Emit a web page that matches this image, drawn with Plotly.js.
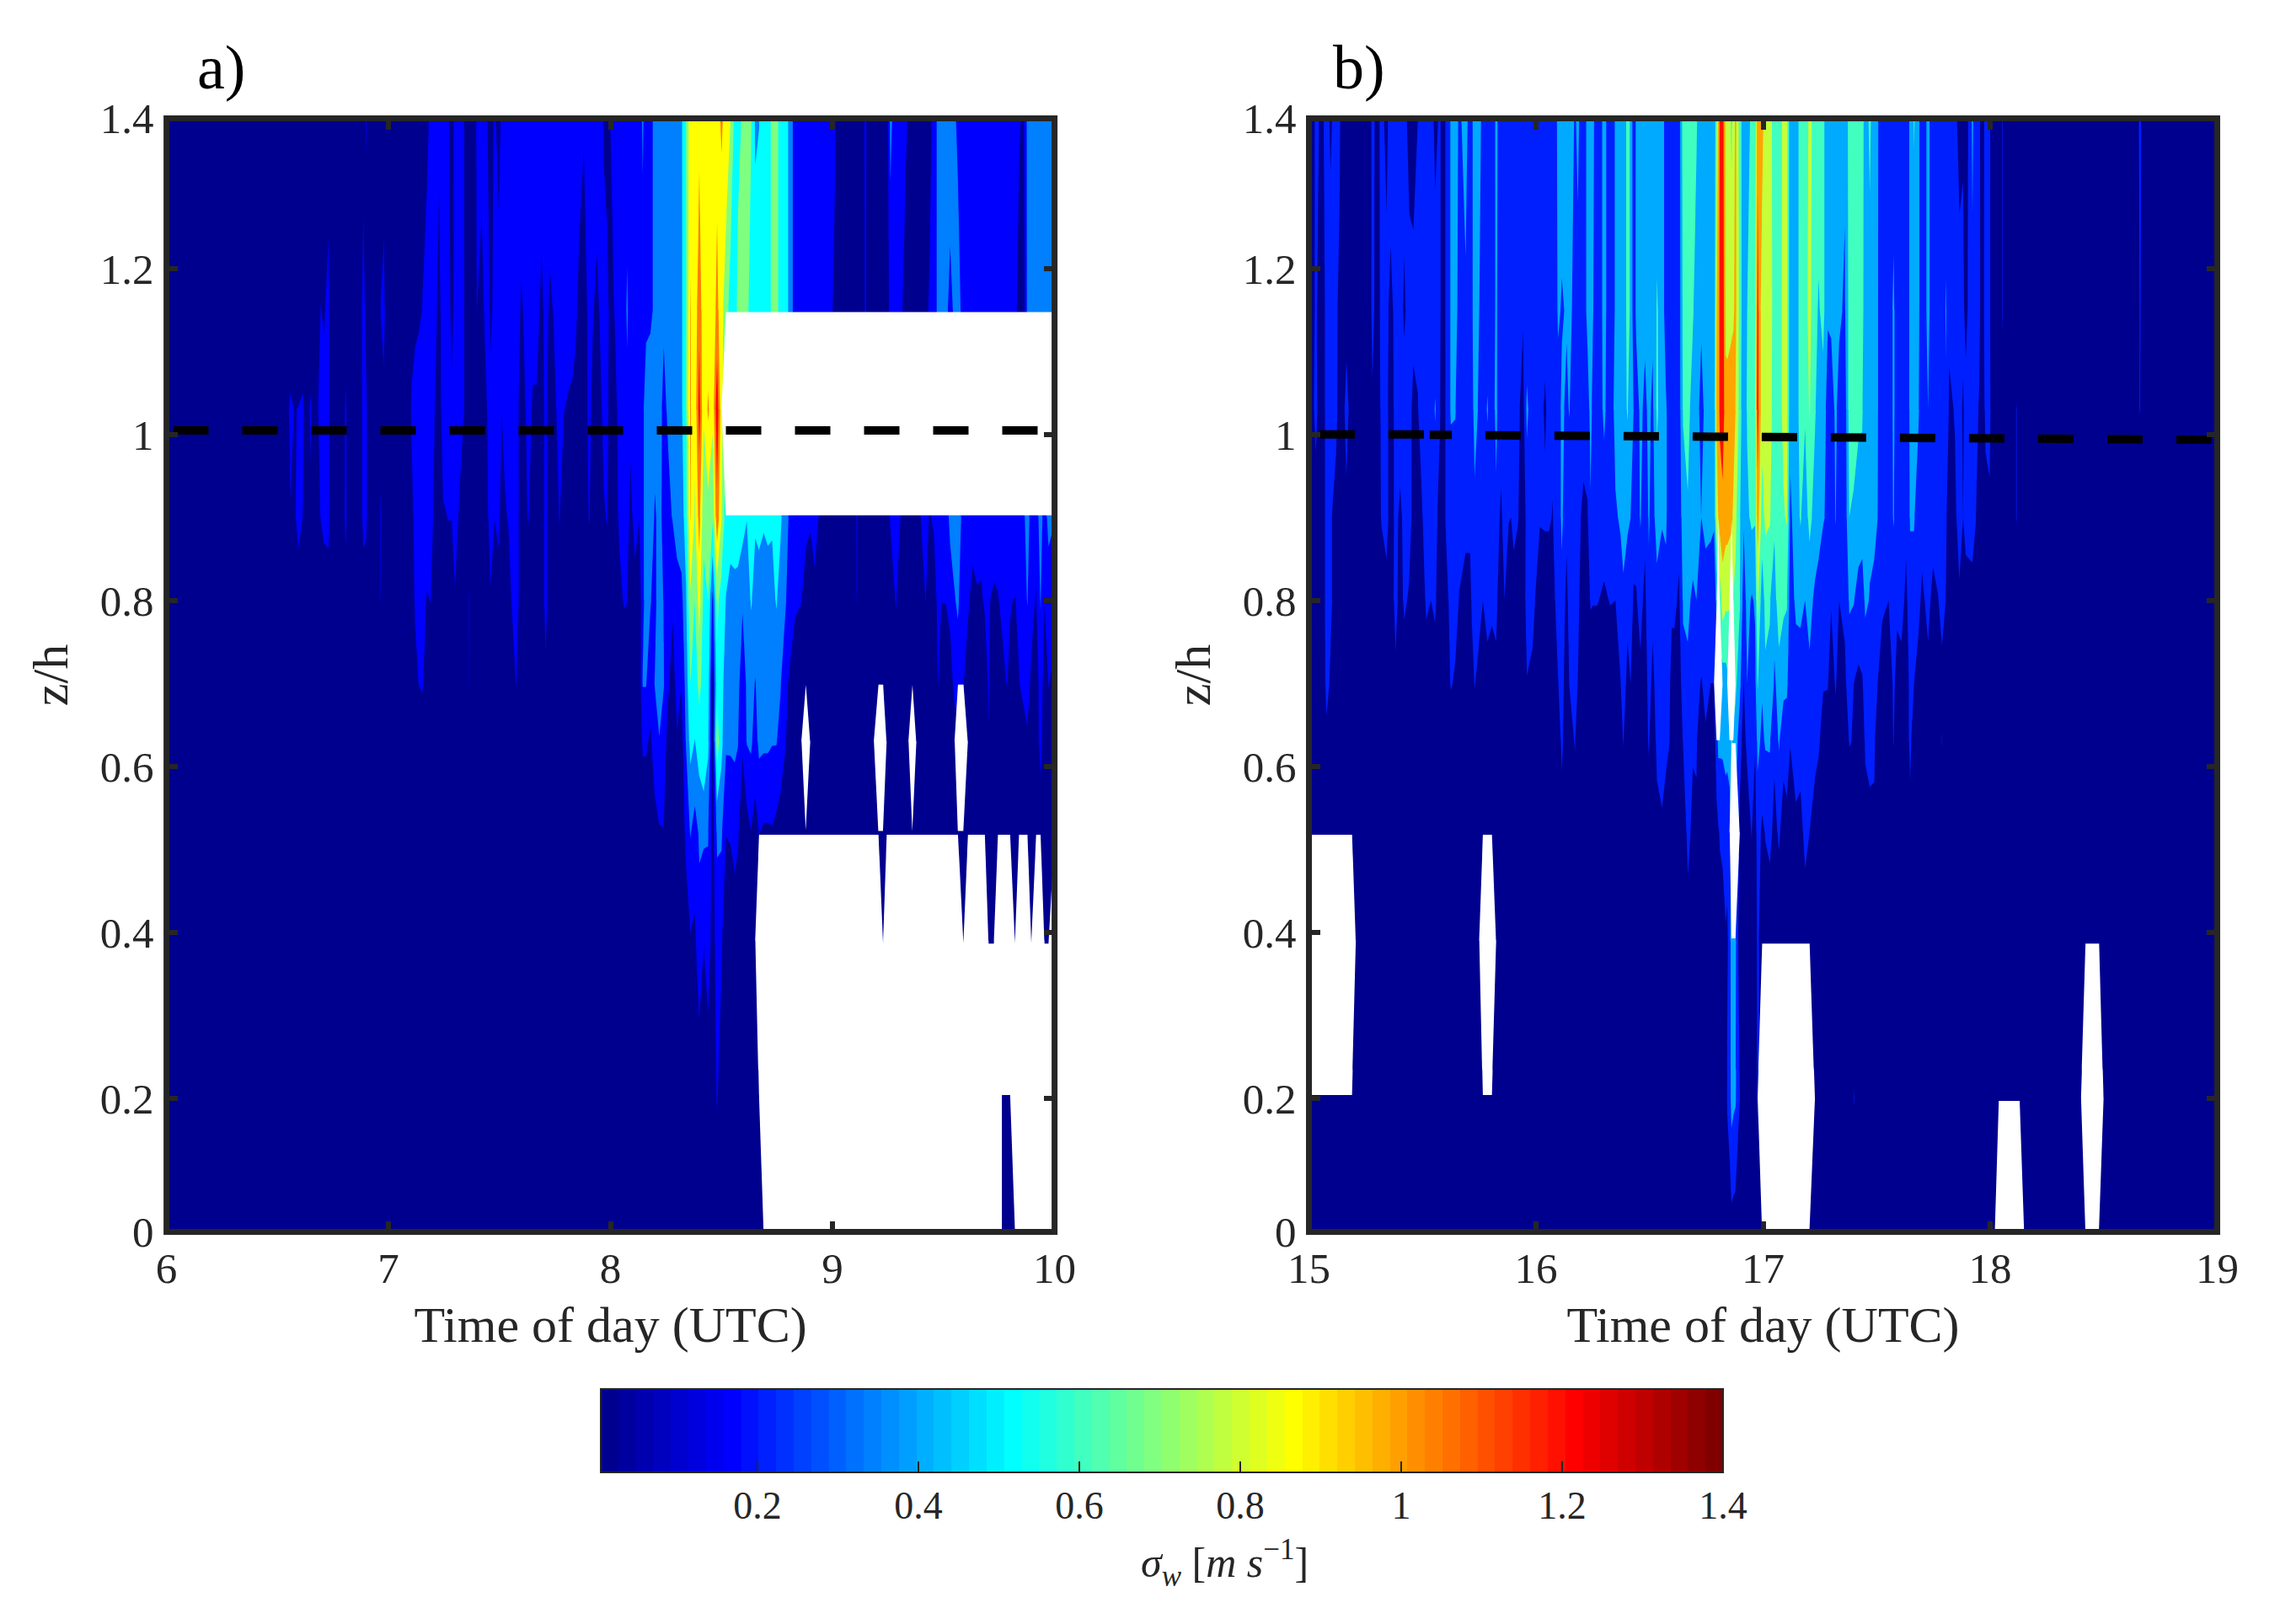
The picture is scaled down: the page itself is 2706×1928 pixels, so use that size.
<!DOCTYPE html>
<html><head><meta charset="utf-8">
<script src="https://cdn.plot.ly/plotly-3.0.1.min.js"></script>
<style>html,body{margin:0;padding:0;background:#fff}</style></head>
<body><div id="chart" style="width:2706px;height:1928px"></div>
<script>
const n = null;
// z/h of the profile levels, listed from the top of the plot down
const heights = [1.382,1.15,1.03,0.9,0.8,0.7,0.63,0.52,0.39,0.2,0.038];
const calmValue = 5; // levels left out at the end of a profile below are calm (cm/s)
// sigma_w in cm/s: [time, value at each height from the top down]
const profilesA = [
[6.00,5],[6.52,5],[6.535,5,5,10],[6.558,5,5,20,17],[6.578,5,5,17,16],[6.595,5,5,18,22,10],[6.615,5,5,20,17,5],[6.63,5,5,10,10],[6.65,5,5,20,15],[6.665,5],
[6.695,5,18,25,18,5],[6.71,5,15,25,20,12],[6.73,5,25,25,25,5],[6.74,5],[6.795,5],[6.807,5,5,22,25,5],[6.82,5],[6.875,5],[6.887,5,30,30,25,5],[6.9,20,8,22,22,5],[6.91,5],[6.955,5],
[6.965,5,18,10,20,18,10],[6.98,5,25,12,5],[6.99,5],[7.09,5],[7.105,5,5,22,10],[7.12,5,10,30,25,20,12],[7.137,5,14,30,30,25,18,5],[7.153,8,18,32,30,25,20,5],[7.173,10,30,30,30,16,5],[7.19,25,30,30,30,18,5],
[7.208,30,30,18,10,5],[7.215,30,20,14,5],[7.228,22,10,5],[7.246,30,30,30,15,5],[7.27,20,28,28,18,5],[7.285,8,10,22,18,5],[7.3,25,25,25,25,16,5],[7.32,25,25,25,15,5],[7.34,18,18,18,5],[7.355,5],[7.364,5,5,5,5,20,18,5],[7.375,5],[7.39,5],
[7.398,25,18,5],[7.42,25,10,5],[7.44,25,25,14,5],[7.45,12,25,22,18,5],[7.46,5,12,25,25,16,5],[7.478,22,25,25,18,5],[7.497,5,30,25,25,5],[7.51,25,25,18,5],[7.525,25,25,25,15,5],[7.54,25,25,25,19,5],[7.555,30,30,30,30,18,10,5],[7.575,30,30,30,30,30,18,5],[7.598,30,15,5],
[7.63,30,25,25,19,5],[7.65,30,25,15,5],[7.668,30,25,15,5],[7.69,30,12,5],[7.708,30,25,25,25,25,13,5],[7.727,30,14,5],[7.742,30,18,8,5],[7.76,30,25,20,10,5],[7.77,30,25,25,19,5],[7.79,30,25,18,5],[7.808,30,25,16,5],[7.83,30,25,14,5],[7.843,30,22,10,5],[7.861,28,10,5],[7.88,20,5],[7.905,30,25,25,19,5],[7.92,30,20,10,5],[7.938,30,12,5],[7.95,30,18,8,5],[7.97,15,25,25,15,5],[7.985,8,25,25,19,5],
[8.0,18,10,5],[8.02,25,19,10,5],[8.04,25,25,25,22,10,5],[8.06,25,25,25,25,19,5],[8.075,25,38,30,25,18,5],[8.09,25,25,22,13,5],[8.11,25,25,25,23,12,5],[8.13,25,25,25,18,5],[8.145,38,28,30,30,30,36,20,5],[8.16,25,30,45,45,42,36,20,5],[8.18,25,32,45,45,36,25,15,5],
[8.2,45,38,42,33,30,36,26,12,5],[8.22,45,45,42,40,45,45,34,16,5],[8.24,45,38,30,30,34,36,25,17,5],[8.26,45,45,38,30,25,20,12,5],[8.28,45,45,40,36,20,10,5],[8.3,47,47,45,40,30,24,16,5],[8.32,50,50,50,45,30,18,10,5],[8.34,70,68,68,60,50,42,36,22,7],
[8.36,100,106,107,106,85,70,58,36,16,5],[8.38,95,92,92,85,70,62,52,28,14,5],[8.40,100,118,130,112,95,75,62,37,30,5],[8.42,98,92,90,75,65,62,70,38,18,5],[8.44,100,92,108,80,70,60,56,36,28,5],[8.46,97,92,92,72,30,12,10,10,10,5],[8.48,98,111,135,118,75,65,80,38,25,19,5],[8.5,108,92,92,88,62,60,58,38,20,8,5],
[8.52,98,80,n,60,52,42,38,18,5],[8.54,88,62,n,62,45,42,38,19,5],[8.56,65,60,n,60,48,42,38,25,5],[8.574,65,75,n,62,46,40,36,20,5],[8.595,72,75,n,60,37,24,20,5,5],[8.614,75,76,n,53,42,38,36,10,5],[8.633,72,62,n,60,54,42,38,17,5],[8.652,50,60,n,54,48,34,28,10,5,5,5],
[8.669,52,60,n,58,44,42,39,18,n,5,5],[8.69,60,60,n,54,46,42,38,15,n,n,5],[8.709,60,60,n,58,42,42,38,15,n,n,n],[8.728,75,75,n,55,46,40,36,16,n,n,n],[8.747,76,76,n,60,54,40,36,12,n,n,n],[8.766,62,62,n,55,46,36,30,8,n,n,n],[8.79,60,60,n,42,36,20,18,5,n,n,n],[8.81,45,45,n,30,24,15,8,5,n,n,n],[8.832,25,25,n,25,20,8,5,5,n,n,n],
[8.86,25,25,n,25,18,5,5,5,n,n,n],[8.88,25,25,n,22,10,5,n,5,n,n,n],[8.9,25,25,n,20,5,5,5,5,n,n,n],[8.92,25,25,n,26,12,5,5,5,n,n,n],[8.94,25,25,n,16,5,5,5,5,n,n,n],[8.96,25,25,n,12,5,5,5,5,n,n,n],[8.99,25,22,n,8,5,5,5,5,n,n,n],[9.01,20,14,n,6,5,5,5,5,n,n,n],[9.03,5,5,n,5,5,5,5,5,n,n,n],[9.09,5,5,n,5,5,5,5,5,n,n,n],[9.11,5,5,n,19,18,8,5,5,n,n,n],[9.13,5,5,n,5,5,5,5,5,n,n,n],[9.148,22,20,n,5,5,5,5,5,n,n,n],[9.165,5,5,n,5,5,5,5,5,n,n,n],
[9.186,5,5,n,5,5,5,5,5,n,n,n],[9.207,5,5,n,5,5,5,n,5,n,n,n],[9.228,5,5,n,5,5,5,n,5,5,n,n],[9.244,5,5,n,8,5,5,5,5,n,n,n],[9.26,40,25,n,19,5,5,5,5,n,n,n],[9.286,25,25,n,25,19,5,5,5,n,n,n],[9.31,25,22,n,16,5,5,5,5,n,n,n],[9.33,22,5,n,8,5,5,5,5,n,n,n],[9.342,15,5,n,5,5,5,5,5,n,n,n],[9.36,5,5,n,5,5,5,n,5,n,n,n],[9.378,5,5,n,5,5,5,5,5,n,n,n],
[9.40,5,10,n,19,5,5,5,5,n,n,n],[9.42,5,12,n,25,18,5,5,5,n,n,n],[9.437,10,20,n,16,5,5,5,5,n,n,n],[9.457,25,25,n,20,8,5,5,5,n,n,n],[9.475,40,40,n,25,22,18,5,5,n,n,n],[9.49,40,40,n,25,18,5,5,5,n,n,n],[9.51,40,40,n,25,18,5,5,5,n,n,n],[9.53,45,30,n,40,25,6,5,5,n,n,n],[9.55,38,38,n,42,34,25,5,5,n,n,n],[9.565,30,45,n,42,38,25,n,5,n,n,n],[9.59,25,25,n,30,22,18,n,5,5,n,n],[9.61,25,25,n,25,20,10,5,5,n,n,n],
[9.632,25,25,n,25,12,5,5,5,n,n,n],[9.65,25,25,n,24,16,5,5,5,n,n,n],[9.67,25,25,n,22,16,5,5,5,n,n,n],[9.686,25,25,n,25,19,10,5,5,n,n,n],[9.703,25,25,n,25,19,19,17,5,5,n,n],[9.727,25,25,n,30,14,5,5,5,5,n,n],[9.745,25,25,n,30,16,5,5,5,n,n,n],[9.763,25,25,n,30,22,10,5,5,n,5,5],[9.784,25,25,n,28,22,18,5,5,n,5,5],[9.80,25,25,n,28,18,16,5,5,n,5,5],[9.822,25,25,n,30,17,5,5,5,5,n,5],[9.84,20,10,n,25,20,17,5,5,n,n,n],[9.86,14,8,n,30,25,22,10,5,n,n,n],
[9.878,40,40,n,45,36,22,16,5,n,n,n],[9.896,45,45,n,25,22,15,5,5,5,n,n],[9.917,45,45,n,25,16,5,5,5,n,n,n],[9.937,45,45,n,44,36,28,25,5,n,n,n],[9.955,45,45,n,25,18,8,5,5,5,n,n],[9.973,45,45,n,42,22,18,12,5,5,n,n],[10,45,45,n,36,22,14,5,5,n,n,n]
];
const profilesB = [
[15,22,22,10,5,5,5,5,5,n,5,5],[15.012,5,5,5,5,5,5,5,5,n,5,5],[15.03,25,25,30,5,5,5,5,5,n,5,5],[15.05,18,8,5,5,5,5,5,5,n,5,5],[15.072,21,21,21,21,21,20,5,5,n,5,5],[15.078,25,25,25,25,25,30,12,5,n,5,5],[15.095,18,25,25,25,26,16,5,5,n,5,5],[15.12,25,25,30,5,5,5,5,5,n,5,5],[15.135,25,14,5,5,5,5,5,5,n,5,5],[15.145,5,5,5,5,5,5,5,5,n,5,5],[15.165,5,10,30,14,5,5,5,5,n,5,5],[15.19,5,5,5,5,5,5,5,5,n,5,5],
[15.207,5],[15.26,5],[15.28,25,25,18,5],[15.3,14,12,5],[15.32,25,25,25,22,5],[15.342,15,25,25,28,12,5],[15.36,30,15,12,10,5],[15.382,25,25,25,25,28,15,5],[15.402,25,25,30,16,10,5],[15.42,25,18,25,25,24,7,5],[15.442,15,25,25,30,17,5],[15.46,13,25,16,12,8,5],[15.48,20,25,19,8,5],[15.492,25,25,28,12,5],[15.51,25,25,25,28,18,5],[15.517,25,25,25,25,24,7,5],[15.537,25,25,25,25,20,5],[15.556,17,25,42,25,24,9,5],[15.578,22,22,21,14,5],[15.59,8,8,8,8,8,5],[15.605,25,25,25,25,10,5],
[15.625,42,42,42,28,30,22,5],[15.645,50,50,41,30,28,17,5],[15.662,36,30,28,28,19,5],[15.69,48,37,28,26,12,5],[15.71,30,30,28,26,12,5],[15.718,38,38,35,30,24,11,5],[15.73,46,46,45,37,30,21,5],[15.75,42,40,38,30,26,14,5],[15.766,38,28,25,25,20,5,5,5,n,5,5],[15.786,28,28,42,26,26,14,5,5,n,5,5],[15.806,28,28,28,28,24,11,5,5,n,5,5],[15.825,44,44,46,36,26,14,5],[15.838,35,30,28,22,12,5],[15.846,25,25,30,16,5],[15.862,25,25,25,30,20,5],[15.88,25,20,25,21,5],[15.89,25,25,25,20,5],[15.902,25,25,25,24,14,5],[15.92,25,25,25,22,5],[15.943,25,22,12,8,5],[15.96,25,25,45,26,30,19,5],[15.985,25,25,25,25,28,14,5],
[16.017,25,25,25,22,5],[16.04,25,25,18,23,5],[16.058,25,25,25,23,5],[16.073,25,25,25,19,5],[16.085,25,25,25,26,21,5],[16.097,50,44,30,28,30,19,5],[16.114,50,38,44,44,34,30,25,10,5],[16.135,50,42,36,25,14,5],[16.147,50,48,41,28,28,21,5],[16.172,38,30,28,28,28,28,22,5],[16.184,44,35,28,25,24,20,5],[16.209,28,28,28,16,10,5],[16.227,46,46,30,18,5],[16.24,46,46,46,38,22,5],[16.25,46,42,36,30,21,5],[16.27,25,25,25,25,21,5],[16.3,46,46,44,30,17,5],[16.327,28,28,28,28,21,5],[16.35,42,42,46,38,20,5],[16.372,44,44,44,42,32,19,5],[16.385,50,50,48,44,38,30,21,5],[16.403,65,65,62,44,26,14,5],[16.417,58,58,50,40,30,20,5],[16.43,26,28,40,28,18,5],[16.442,45,45,30,25,19,5],[16.46,46,46,44,42,26,16,5],[16.48,48,44,36,25,15,5],[16.497,48,46,44,42,36,30,23,5],[16.514,48,44,36,32,26,14,5],[16.533,50,62,64,50,32,30,26,12,5],[16.555,50,50,48,42,28,28,28,17,5],[16.573,30,30,42,42,36,28,24,12,5],[16.589,30,30,30,30,26,22,20,5],[16.598,30,30,30,30,24,12,5],[16.61,30,30,30,30,24,12,5],[16.63,30,30,30,26,17,5],
[16.648,70,66,62,50,42,35,21,5],[16.669,70,70,66,58,42,38,30,26,11,5],[16.691,70,62,52,46,38,25,22,15,5],[16.707,62,52,50,46,40,24,22,17,5],[16.728,46,44,32,40,30,19,5],[16.747,46,46,46,46,30,24,18,5],[16.77,46,46,46,44,30,20,5],[16.784,42,42,42,42,30,20,12,5],[16.796,80,100,104,90,44,n,30,15,5],[16.803,105,112,112,100,n,n,45,18,8],[16.81,125,125,125,108,70,n,44,22,10],[16.822,130,135,135,112,90,50,44,24,12],[16.836,95,95,106,108,84,52,46,30,18],[16.842,90,92,108,108,84,55,46,28,16,22,5],[16.853,85,92,112,106,82,n,50,30,30,30,8],[16.861,75,92,118,104,n,n,62,n,50,48,12],[16.87,90,98,108,96,78,n,56,n,46,44,11],[16.879,105,105,100,85,75,65,50,n,44,42,10],[16.898,70,72,72,62,62,45,28,15,5,20,5],
[16.915,45,44,42,42,30,19,12,8,5],[16.93,50,60,62,56,46,40,26,5,5],[16.95,66,66,66,64,38,30,22,21,5],[16.965,70,72,72,62,42,35,22,8,5],[16.976,115,128,130,112,85,62,45,30,25,24,5],[16.996,108,88,88,72,48,42,36,16,8,n,5],[17.01,88,88,88,84,66,56,42,21,8,n,5],[17.03,88,88,88,82,62,55,42,26,5,n,5],[17.05,70,72,70,66,45,38,24,14,5,n,5],[17.07,70,72,72,68,80,45,42,23,5,n,5],[17.09,85,85,85,78,64,46,26,12,5,n,5],[17.105,85,85,85,82,62,44,28,15,5,n,5],[17.12,45,45,46,36,30,26,21,5,5,n,5],[17.145,48,48,48,50,44,30,24,18,5,n,5],[17.165,70,70,70,62,44,32,26,15,5,n,5],[17.185,68,74,62,50,40,30,26,24,12,n,5],[17.205,85,85,82,66,46,36,28,20,5,n,5],
[17.229,72,66,62,52,36,28,24,14,5],[17.245,70,58,52,44,36,26,22,10,5],[17.265,66,66,52,41,30,21,14,5],[17.285,42,42,32,38,32,21,12,5],[17.3,44,44,30,26,21,12,5],[17.32,44,44,44,41,30,22,12,5],[17.335,44,44,32,25,20,10,5],[17.36,44,37,28,26,24,16,5],[17.38,68,68,68,60,42,30,21,5],[17.4,68,68,68,57,41,20,19,5,5,21,5],[17.42,68,66,62,55,30,17,5],[17.437,68,68,62,52,28,19,10,5],[17.45,50,46,48,50,44,25,22,14,5],[17.47,64,54,46,44,39,28,25,15,5],[17.49,48,46,44,44,36,26,24,15,5],[17.505,42,41,41,40,26,20,6,5],[17.525,25,25,25,25,24,8,5],[17.553,25,25,25,25,20,5],[17.575,30,44,44,42,26,24,21,5],[17.59,28,28,28,26,24,13,5],[17.61,25,25,25,25,26,14,5],[17.63,25,25,25,24,16,5],[17.648,45,45,44,42,30,28,26,12,5],[17.665,62,50,46,42,30,20,5],[17.685,44,44,42,28,24,14,5],[17.7,25,25,25,26,17,5],[17.727,46,46,40,28,24,16,5],[17.748,26,26,26,26,16,5],[17.77,25,25,25,30,19,5],[17.788,25,25,25,25,26,15,21,5],[17.805,30,42,38,25,20,5],[17.82,25,24,17,5],[17.845,25,22,21,17,5],[17.865,14,26,25,26,18,5],[17.881,18,24,18,20,5],[17.893,8,14,26,25,14,5],[17.922,44,36,28,26,15,5],[17.937,25,25,25,21,5],[17.953,25,25,18,5],[17.961,10,12,5],[17.98,25,25,24,14,5],[17.998,25,25,30,14,5],[18.007,5],
[18.02,5],[18.038,5,5,5,5,5,5,5,5,5,5,n],[18.045,5,5,5,5,5,5,5,5,5,5,n],[18.054,22,22,14,5,5,5,5,5,5,5,n],[18.063,5,5,5,5,5,5,5,5,5,5,n],[18.09,5,5,5,5,5,5,5,5,5,5,n],[18.116,5,5,21,21,5,5,5,5,5,5,n],[18.13,5,5,5,5,5,5,5,5,5,5,n],[18.15,5],[18.4,5],[18.42,5,5,5,5,5,5,5,5,5,n,5],[18.45,5,5,5,5,5,5,5,5,5,n,5],[18.48,5,5,5,5,5,5,5,5,5,n,5],[18.5,5],[18.64,5],[18.66,25,22,21,5],[18.68,5],[19,5]
];
// contour bands and the colours MATLAB gave them
const levelsA = {start:0.175,end:1.2251,size:0.175};
const levelsB = {start:0.2,end:1.2001,size:0.2};
const coloursA = ['#00008f','#0000ff','#007fff','#00ffff','#7fff7f','#ffff00','#ff7f00','#ff0000'];
const coloursB = ['#00008f','#001fff','#00aaff','#40ffbf','#c5ff3a','#ffa500','#ff0f00'];
// boundary-layer top lines
const lineAx = [6.03,10], lineAy = [1.0048,1.0048];
const lineBx = [[15.046,15.51],[15.532,15.629],[15.777,19]];
const lineBy = [[1.0,1.0],[0.9995,0.9995],[0.999,0.9936]];
const yTickVals = [0.0388,0.2,0.4,0.6,0.8,1,1.2,1.381];
const yTickText = ['0','0.2','0.4','0.6','0.8','1','1.2','1.4'];
const xTicksA = [6,7,8,9,10], xTicksB = [15,16,17,18,19];
const barTicks = [0.2,0.4,0.6,0.8,1,1.2,1.4];
const barText = ['0.2','0.4','0.6','0.8','1','1.2','1.4'];
const jet = ['00008f','00009f','0000af','0000bf','0000cf','0000df','0000ef','0000ff',
'0010ff','0020ff','0030ff','0040ff','0050ff','0060ff','0070ff','0080ff','008fff','009fff','00afff','00bfff','00cfff','00dfff','00efff','00ffff',
'10ffef','20ffdf','30ffcf','40ffbf','50ffaf','60ff9f','70ff8f','80ff80','8fff70','9fff60','afff50','bfff40','cfff30','dfff20','efff10','ffff00',
'ffef00','ffdf00','ffcf00','ffbf00','ffaf00','ff9f00','ff8f00','ff8000','ff7000','ff6000','ff5000','ff4000','ff3000','ff2000','ff1000','ff0000',
'ef0000','df0000','cf0000','bf0000','af0000','9f0000','8f0000','800000'];

const W=2706,H=1928, ink='#262626', serif='"Liberation Serif",serif';
const dx=(l,r)=>[l/W,r/W], dy=(t,b)=>[1-b/H,1-t/H];
function grid(profiles){
  const times=profiles.map(p=>p[0]);
  const full=profiles.map(p=>{const q=p.slice(1);while(q.length<heights.length)q.push(calmValue);return q;});
  const y=heights.slice().reverse();
  const z=y.map((_,r)=>full.map(q=>{const v=q[heights.length-1-r];return v===null?null:v/100;}));
  const gap=z.map(row=>row.map(v=>v===null?1:0));
  return {times,y,z,gap};
}
function traces(profiles,levels,colours,xa,ya){
  const g=grid(profiles), steps=colours.length-1;
  return [{type:'contour',x:g.times,y:g.y,z:g.z,xaxis:xa,yaxis:ya,connectgaps:true,showscale:false,hoverinfo:'skip',
    autocontour:false,contours:Object.assign({coloring:'fill',showlines:false},levels),line:{width:0,smoothing:0},
    colorscale:colours.map((c,i)=>[i/steps,c])},
   {type:'contour',x:g.times,y:g.y,z:g.gap,xaxis:xa,yaxis:ya,showscale:false,hoverinfo:'skip',autocontour:false,
    contours:{coloring:'fill',showlines:false,start:0.02,end:1.02,size:1},line:{width:0,smoothing:0},
    colorscale:[[0,'rgba(255,255,255,0)'],[0.5,'rgba(255,255,255,1)'],[1,'rgba(255,255,255,1)']]}];
}
const dash={color:'#000',width:10,dash:'42px,40px'};
const data=[...traces(profilesA,levelsA,coloursA,'x','y'),...traces(profilesB,levelsB,coloursB,'x2','y2'),
 {type:'scatter',mode:'lines',x:lineAx,y:lineAy,xaxis:'x',yaxis:'y',line:dash,hoverinfo:'skip',showlegend:false},
 ...lineBx.map((x,i)=>({type:'scatter',mode:'lines',x:x,y:lineBy[i],xaxis:'x2',yaxis:'y2',line:dash,hoverinfo:'skip',showlegend:false})),
 {type:'heatmap',xaxis:'x3',yaxis:'y3',z:[jet.map((_,i)=>i+0.5)],x0:0.0052+(1.4-0.0052)/128,dx:(1.4-0.0052)/64,y0:0.5,dy:1,zmin:0,zmax:64,showscale:false,hoverinfo:'skip',
  colorscale:jet.flatMap((c,i)=>[[i/64,'#'+c],[(i+1)/64,'#'+c]])}];
const tickfont={family:serif,size:51,color:ink};
const titlefont={family:serif,size:60,color:ink};
const xAxis=(dom,rng,vals)=>({domain:dom,range:rng,tickmode:'array',tickvals:vals,ticktext:vals.map(String),ticks:'inside',ticklen:13,tickwidth:6,tickcolor:ink,mirror:'ticks',showgrid:false,zeroline:false,showline:false,tickfont,ticklabelstandoff:8,
  title:{text:'Time of day (UTC)',font:titlefont,standoff:18}});
const yAxis=(anchor,dom)=>({domain:dom,range:[0.0388,1.381],anchor,tickmode:'array',tickvals:yTickVals,ticktext:yTickText,ticks:'inside',ticklen:13,tickwidth:6,tickcolor:ink,mirror:'ticks',showgrid:false,zeroline:false,showline:false,tickfont,ticklabelstandoff:14,
  title:{text:'z/h',font:titlefont,standoff:18}});
const frame=(xr,yr,w)=>({type:'rect',xref:xr+' domain',yref:yr+' domain',x0:0,x1:1,y0:0,y1:1,line:{color:ink,width:w},fillcolor:'rgba(0,0,0,0)',layer:'above'});
const layout={width:W,height:H,margin:{l:0,r:0,t:0,b:0},paper_bgcolor:'#fff',plot_bgcolor:'#fff',showlegend:false,
 xaxis:xAxis(dx(197.6,1251.6),[6,10],xTicksA),yaxis:yAxis('x',dy(140.5,1462.5)),
 xaxis2:xAxis(dx(1553.5,2631.5),[15,19],xTicksB),yaxis2:yAxis('x2',dy(140.5,1462.5)),
 xaxis3:{domain:dx(713,2045),anchor:'y3',range:[0.0052,1.4],tickmode:'array',tickvals:barTicks,ticktext:barText,ticks:'inside',ticklen:13,tickwidth:1.5,tickcolor:ink,showgrid:false,zeroline:false,showline:false,tickfont:{family:serif,size:46,color:ink},ticklabelstandoff:8},
 yaxis3:{domain:dy(1649,1748),anchor:'x3',range:[0,1],showticklabels:false,ticks:'',showgrid:false,zeroline:false,showline:false},
 shapes:[frame('x','y',7),frame('x2','y2',7),frame('x3','y3',2)],
 annotations:[{xref:'paper',yref:'paper',x:232/W,y:1-80/H,xanchor:'left',yanchor:'middle',text:'a)',showarrow:false,font:{family:serif,size:74,color:'#000'}},
  {xref:'paper',yref:'paper',x:1580/W,y:1-80/H,xanchor:'left',yanchor:'middle',text:'b)',showarrow:false,font:{family:serif,size:74,color:'#000'}},
  {xref:'paper',yref:'paper',x:1453/W,y:1-1855/H,xanchor:'center',yanchor:'middle',text:'<i>σ<sub>w</sub></i> [<i>m s</i><sup>−1</sup>]',showarrow:false,font:{family:serif,size:50,color:ink}}]};
Plotly.newPlot('chart',data,layout,{staticPlot:true,displayModeBar:false});
</script></body></html>
